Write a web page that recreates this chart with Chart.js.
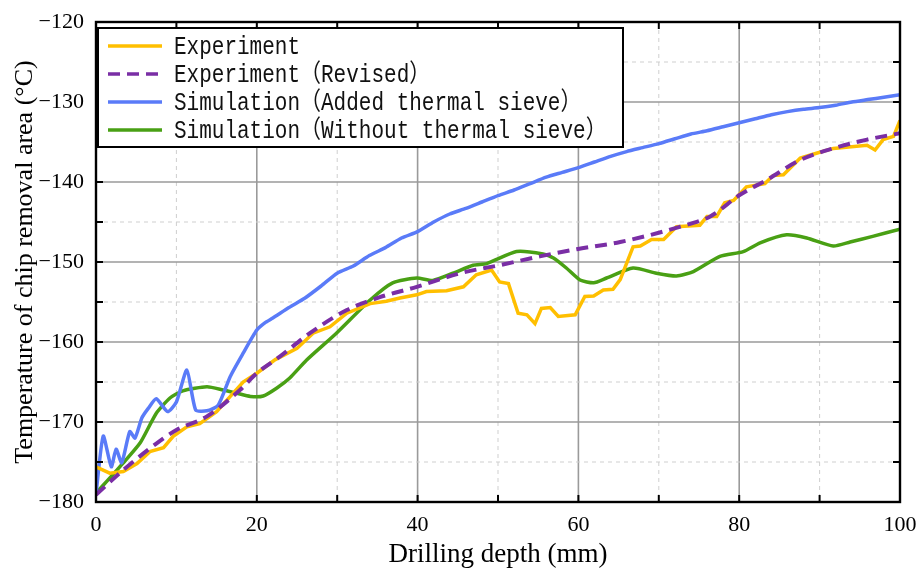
<!DOCTYPE html>
<html lang="en">
<head>
    <meta charset="UTF-8">
    <title>Chip removal area temperature</title>
    <script src="https://cdn.jsdelivr.net/npm/chart.js"></script>
    <style>
        html, body { margin: 0; padding: 0; background: #fff; }
        #wrap { width: 924px; height: 574px; }
    </style>
</head>
<body>
    <div id="wrap"><canvas id="tempChart" width="924" height="574"></canvas></div>

    <script>
        // values
        const expDepth = [0, 1.7, 3.4, 5.1, 6.7, 8.4, 9.6, 11.3, 12.9, 15, 16.7, 18.3, 20, 22.3, 25, 27, 29.1, 31.2, 34.1, 36.1, 37.8, 39.9, 41.1, 43.6, 45.7, 47.3, 49.2, 50.2, 51.3, 52.5, 53.6, 54.6, 55.4, 56.5, 57.5, 59.6, 60.8, 61.9, 63.1, 64.3, 65.2, 66.8, 67.7, 69.1, 70.6, 72.2, 75.1, 76, 77.2, 78.2, 79.3, 80.9, 83.2, 84.2, 85.5, 87.6, 89.6, 91.7, 95.9, 96.9, 97.9, 99.2, 100];
        const expTemp = [-175.6, -176.4, -176.2, -175.2, -173.7, -173.2, -171.8, -170.6, -170.2, -168.7, -166.8, -165, -163.9, -162.2, -160.8, -158.9, -158.1, -156.4, -155.2, -154.9, -154.5, -154.1, -153.7, -153.6, -153.1, -151.6, -151, -152.5, -152.7, -156.4, -156.6, -157.7, -155.8, -155.7, -156.8, -156.6, -154.3, -154.25, -153.5, -153.4, -152.2, -148.1, -148, -147.2, -147.2, -145.6, -145.4, -144.3, -144.3, -142.6, -142.3, -140.6, -140.2, -139.2, -139.1, -137, -136.4, -135.8, -135.4, -136, -134.7, -134.3, -132.3];

        const revDepth = [0, 3.4, 7.5, 10, 13.8, 17.9, 20, 22.9, 26.6, 31.2, 35.3, 39.9, 45.3, 50.2, 55.2, 59.8, 65.2, 72.6, 76.4, 80.1, 83.4, 87.6, 91.7, 95.9, 100];
        const revTemp = [-179.1, -176, -172.7, -171, -169.3, -166, -163.9, -161.8, -158.9, -156, -154.4, -153.1, -151.4, -150.4, -149.3, -148.4, -147.5, -145.6, -144.3, -141.6, -139.75, -137.25, -135.8, -134.7, -133.9];

        const simAddDepth = [0, 0.9, 1.9, 2.5, 3.2, 4.2, 4.85, 5.7, 6.5, 7.5, 8.9, 10, 11.3, 12.4, 13.8, 15.2, 16.7, 18.3, 20, 21, 22, 24, 26, 28, 30, 32, 34, 36, 38, 40, 42, 44, 46, 48, 50, 52, 54, 56, 58, 60, 62, 64, 66, 68, 70, 72, 74, 76, 78, 80, 82, 84, 86, 88, 90, 92, 94, 96, 98, 100];
        const simAddTemp = [-179, -171.75, -175.6, -173.4, -175.1, -171.2, -172, -169.5, -168.3, -167.1, -168.7, -167.5, -163.5, -168.5, -168.6, -167.9, -164.3, -161.4, -158.5, -157.6, -157, -155.7, -154.5, -153, -151.4, -150.5, -149.2, -148.2, -147, -146.2, -145, -144, -143.3, -142.5, -141.7, -141, -140.2, -139.4, -138.8, -138.2, -137.5, -136.8, -136.2, -135.7, -135.2, -134.6, -134, -133.6, -133.1, -132.6, -132.1, -131.6, -131.2, -130.9, -130.7, -130.4, -130, -129.7, -129.4, -129.1];

        const simNoDepth = [0, 3.4, 5.5, 7.5, 9.2, 10.8, 13.8, 15.8, 17.5, 19.2, 20.8, 22.5, 24.1, 26.2, 29.9, 34.1, 36.9, 39.9, 41.9, 44.4, 46.9, 48.6, 52.3, 55.6, 56.9, 58.5, 60.2, 61.9, 63.5, 66.8, 69.7, 72.2, 74.3, 77.6, 80.5, 82.6, 85.9, 88.4, 91.7, 93.8, 96.6, 100];
        const simNoTemp = [-178.9, -175.1, -172.6, -168.9, -167, -166.1, -165.6, -166, -166.4, -166.8, -166.75, -165.75, -164.5, -162.25, -158.9, -154.75, -152.6, -152, -152.3, -151.4, -150.4, -150.2, -148.7, -149, -149.5, -150.75, -152.25, -152.6, -152, -150.75, -151.4, -151.75, -151.2, -149.3, -148.7, -147.6, -146.6, -147, -148, -147.5, -146.8, -145.9];

        const seriesNames = ['Experiment', 'Experiment（Revised）', 'Simulation（Added thermal sieve）', 'Simulation（Without thermal sieve）'];

        function toPoints(xs, ys) {
            return xs.map((x, i) => ({ x: x, y: ys[i] }));
        }

        function line(ctx, x1, y1, x2, y2) {
            ctx.beginPath();
            ctx.moveTo(x1, y1);
            ctx.lineTo(x2, y2);
            ctx.stroke();
        }

        // grid lines (solid major, dashed minor), inward ticks, frame and boxed legend
        const framePlugin = {
            id: 'framePlugin',
            beforeDatasetsDraw(chart) {
                const { ctx, chartArea: a, scales: { x, y } } = chart;
                ctx.save();
                for (let v = 10; v < 100; v += 10) {
                    const major = v % 20 === 0;
                    ctx.strokeStyle = major ? '#9a9a9a' : '#cfcfcf';
                    ctx.lineWidth = major ? 1.6 : 1;
                    ctx.setLineDash(major ? [] : [4, 4]);
                    const px = x.getPixelForValue(v);
                    line(ctx, px, a.top, px, a.bottom);
                }
                for (let v = -175; v < -120; v += 5) {
                    const major = v % 10 === 0;
                    ctx.strokeStyle = major ? '#9a9a9a' : '#cfcfcf';
                    ctx.lineWidth = major ? 1.6 : 1;
                    ctx.setLineDash(major ? [] : [4, 4]);
                    const py = y.getPixelForValue(v);
                    line(ctx, a.left, py, a.right, py);
                }
                ctx.restore();
            },
            afterDatasetsDraw(chart) {
                const { ctx, chartArea: a, scales: { x, y } } = chart;
                ctx.save();
                ctx.strokeStyle = '#000';
                ctx.lineWidth = 2;
                ctx.setLineDash([]);
                for (let v = 10; v < 100; v += 10) {
                    const px = x.getPixelForValue(v);
                    line(ctx, px, a.bottom, px, a.bottom - 7);
                    line(ctx, px, a.top, px, a.top + 7);
                }
                for (let v = -175; v < -120; v += 5) {
                    const py = y.getPixelForValue(v);
                    line(ctx, a.left, py, a.left + 7, py);
                    line(ctx, a.right, py, a.right - 7, py);
                }
                ctx.lineWidth = 2.4;
                ctx.strokeRect(a.left, a.top, a.right - a.left, a.bottom - a.top);

                // legend box
                const bx = a.left + 2, by = a.top + 6, bw = 525, bh = 119;
                ctx.fillStyle = '#fff';
                ctx.fillRect(bx, by, bw, bh);
                ctx.lineWidth = 2;
                ctx.strokeRect(bx, by, bw, bh);
                ctx.textBaseline = 'middle';
                chart.data.datasets.forEach((ds, i) => {
                    const ry = by + 18 + i * 28;
                    ctx.strokeStyle = ds.borderColor;
                    ctx.lineWidth = 3.5;
                    ctx.setLineDash(ds.borderDash || []);
                    line(ctx, bx + 10, ry, bx + 64, ry);
                    ctx.setLineDash([]);
                    // narrow, tall mono text like the original
                    ctx.save();
                    ctx.translate(bx + 76, ry + 1);
                    ctx.scale(0.84, 1);
                    ctx.font = '25px "Liberation Mono", "Noto Sans CJK SC", monospace';
                    ctx.fillStyle = '#111';
                    ctx.fillText(ds.label, 0, 0);
                    ctx.restore();
                });
                ctx.restore();
            }
        };

        const ctx = document.getElementById('tempChart').getContext('2d');
        new Chart(ctx, {
            type: 'line',
            data: {
                datasets: [
                    {
                        label: seriesNames[0],
                        data: toPoints(expDepth, expTemp),
                        borderColor: '#ffbf00',
                        borderWidth: 3.5,
                        tension: 0,
                        order: 1
                    },
                    {
                        label: seriesNames[1],
                        data: toPoints(revDepth, revTemp),
                        borderColor: '#7a2ea5',
                        borderWidth: 4,
                        borderDash: [12, 7],
                        cubicInterpolationMode: 'monotone',
                        order: 0
                    },
                    {
                        label: seriesNames[2],
                        data: toPoints(simAddDepth, simAddTemp),
                        borderColor: '#5a7bf8',
                        borderWidth: 3.5,
                        tension: 0.2,
                        order: 2
                    },
                    {
                        label: seriesNames[3],
                        data: toPoints(simNoDepth, simNoTemp),
                        borderColor: '#49a014',
                        borderWidth: 3.5,
                        tension: 0.2,
                        order: 3
                    }
                ]
            },
            options: {
                responsive: false,
                animation: false,
                events: [],
                elements: { point: { radius: 0 } },
                layout: { padding: { top: 22, right: 24, left: 0, bottom: 0 } },
                plugins: {
                    legend: { display: false },
                    tooltip: { enabled: false }
                },
                scales: {
                    x: {
                        type: 'linear',
                        min: 0,
                        max: 100,
                        grid: { display: false },
                        border: { display: false },
                        ticks: {
                            stepSize: 20,
                            padding: 2,
                            color: '#000',
                            maxRotation: 0,
                            font: { family: '"Liberation Serif", serif', size: 22 }
                        },
                        title: {
                            display: true,
                            text: 'Drilling depth (mm)',
                            color: '#000',
                            padding: { top: 0, bottom: 3 },
                            font: { family: '"Liberation Serif", serif', size: 27 }
                        },
                        afterFit(scale) { scale.height = 72; }
                    },
                    y: {
                        type: 'linear',
                        min: -180,
                        max: -120,
                        grid: { display: false },
                        border: { display: false },
                        ticks: {
                            stepSize: 10,
                            padding: 4,
                            color: '#000',
                            font: { family: '"Liberation Serif", serif', size: 22 },
                            callback: (v) => String(v).replace('-', '\u2212')
                        },
                        title: {
                            display: true,
                            text: 'Temperature of chip removal area (°C)',
                            color: '#000',
                            padding: { top: 10, bottom: 0 },
                            font: { family: '"Liberation Serif", serif', size: 26 }
                        },
                        afterFit(scale) { scale.width = 96; }
                    }
                }
            },
            plugins: [framePlugin]
        });
    </script>
</body>
</html>
